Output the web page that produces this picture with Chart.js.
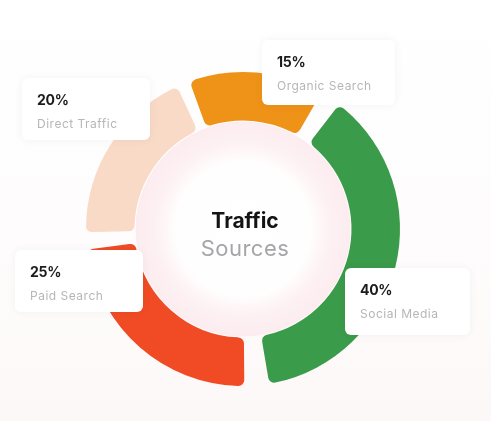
<!DOCTYPE html>
<html>
<head>
<meta charset="utf-8">
<script src="https://cdn.jsdelivr.net/npm/chart.js@4.4.1/dist/chart.umd.min.js"></script>
<style>
  html, body { margin: 0; padding: 0; }
  body { width: 491px; height: 421px; background: linear-gradient(#ffffff 0%, #fefcfc 60%, #fdf8f8 100%); overflow: hidden; }
  #wrap { position: relative; width: 491px; height: 421px; }
</style>
</head>
<body>
<div id="wrap"><canvas id="c" width="491" height="421"></canvas></div>
<script>
// ---- data ----
const categories = ["Organic Search", "Social Media", "Paid Search", "Direct Traffic"];
const shares = [15, 40, 25, 20];
const percentLabels = ["15%", "40%", "25%", "20%"];
const sliceColors = ["#ef9218", "#3a9b4a", "#f04b24", "#f8dac6"];
const centerTitle = ["Traffic", "Sources"];

// label card layout (per category, same order)
const cards = [
  { x: 262, y: 40, w: 133, h: 65 },
  { x: 345, y: 268, w: 125, h: 67 },
  { x: 15, y: 250, w: 128, h: 62 },
  { x: 22, y: 78, w: 128, h: 62 }
];

const bgPlugin = {
  id: 'innerDisc',
  beforeDatasetsDraw(chart) {
    const meta = chart.getDatasetMeta(0);
    const arc = meta.data[0];
    const cx = arc.x, cy = arc.y;
    const r = arc.innerRadius + 9;
    const ctx = chart.ctx;
    ctx.save();
    const g = ctx.createRadialGradient(cx, cy, 0, cx, cy, r);
    g.addColorStop(0, '#ffffff');
    g.addColorStop(0.62, '#fffefe');
    g.addColorStop(0.8, '#fdf1f3');
    g.addColorStop(1, '#fcecef');
    ctx.fillStyle = g;
    ctx.beginPath();
    ctx.arc(cx, cy, r, 0, Math.PI * 2);
    ctx.fill();
    ctx.restore();
  },
  afterDraw(chart) {
    const ctx = chart.ctx;
    const meta = chart.getDatasetMeta(0);
    const arc = meta.data[0];
    const cx = arc.x, cy = arc.y;
    ctx.save();
    // center text
    ctx.textAlign = 'center';
    ctx.textBaseline = 'middle';
    ctx.fillStyle = '#141414';
    ctx.font = '700 21px Inter';
    ctx.fillText(centerTitle[0], cx + 2, cy - 7);
    ctx.fillStyle = '#a6a6a9';
    ctx.font = '400 22px Inter';
    ctx.letterSpacing = '0.5px';
    ctx.fillText(centerTitle[1], cx + 2, cy + 20);
    ctx.letterSpacing = '0px';

    // cards
    cards.forEach((c, i) => {
      ctx.save();
      ctx.shadowColor = 'rgba(0,0,0,0.05)';
      ctx.shadowBlur = 10;
      ctx.fillStyle = '#ffffff';
      ctx.beginPath();
      ctx.roundRect(c.x, c.y, c.w, c.h, 6);
      ctx.fill();
      ctx.restore();
      ctx.textAlign = 'left';
      ctx.textBaseline = 'middle';
      ctx.fillStyle = '#1c1c1c';
      ctx.font = '700 14px Inter';
      ctx.letterSpacing = '-0.3px';
      ctx.fillText(percentLabels[i], c.x + 15, c.y + 23);
      ctx.fillStyle = '#b6b6b9';
      ctx.font = '400 12px Inter';
      ctx.letterSpacing = '0.5px';
      ctx.fillText(categories[i], c.x + 15, c.y + 46);
      ctx.letterSpacing = '0px';
    });
    ctx.restore();
  }
};

new Chart(document.getElementById('c'), {
  type: 'doughnut',
  data: {
    labels: categories,
    datasets: [{
      data: shares,
      backgroundColor: sliceColors,
      borderWidth: 0,
      borderRadius: 6,
      spacing: 20,
      hoverOffset: 0
    }]
  },
  options: {
    responsive: false,
    animation: false,
    cutout: '67%',
    rotation: -22,
    layout: { padding: { left: 86, right: 91, top: 72, bottom: 35 } },
    plugins: { legend: { display: false }, tooltip: { enabled: false } },
    events: []
  },
  plugins: [bgPlugin]
});
</script>
</body>
</html>
